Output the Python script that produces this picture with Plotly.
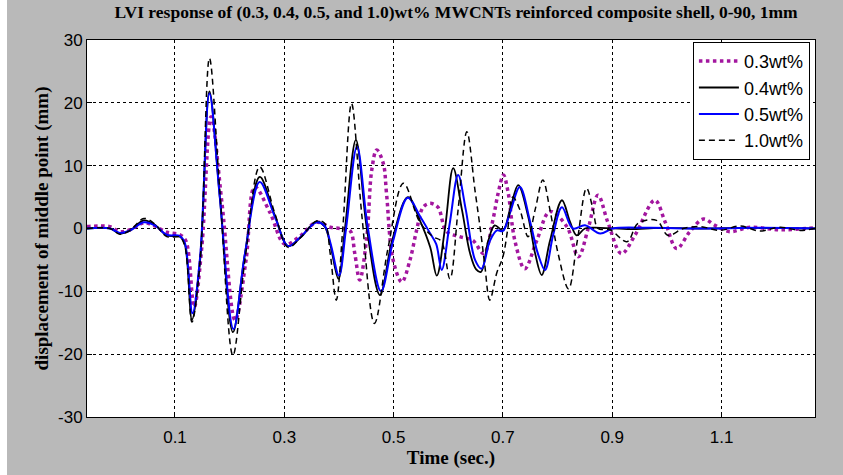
import plotly.graph_objects as go

# ---- data ----
t_03 = [-0.061, -0.019, -0.001, 0.018, 0.043, 0.063, 0.085, 0.109, 0.120, 0.135, 0.149, 0.166,
        0.186, 0.210, 0.230, 0.246, 0.274, 0.301, 0.329, 0.359, 0.384, 0.402, 0.420, 0.429,
        0.438, 0.451, 0.460, 0.469, 0.481, 0.487, 0.499, 0.515, 0.530, 0.542, 0.554, 0.567,
        0.581, 0.597, 0.621, 0.645, 0.665, 0.682, 0.691, 0.701, 0.709, 0.722, 0.740, 0.762,
        0.786, 0.817, 0.838, 0.856, 0.874, 0.892, 0.917, 0.942, 0.978, 0.997, 1.018, 1.042,
        1.067, 1.088, 1.115, 1.152, 1.207, 1.271]
v_03 = [0.3, 0.3, -0.5, -0.2, 0.9, 0.4, -0.6, -1.0, -2.0, -12.5, -3.0, 17.8,
        4.0, -14.6, -5.0, 6.6, 2.5, -2.5, -1.2, 1.0, 0.2, 0.0, -0.3, -4.0,
        -8.2, -1.3, 9.3, 12.5, 10.4, 5.6, -5.0, -8.5, -5.0, -0.3, 3.4, 4.0,
        3.4, -0.5, -1.3, -1.9, -4.0, 1.5, 5.5, 8.5, 6.0, -2.0, -6.4, -1.9,
        2.7, 0.3, -4.5, 0.0, 5.3, 1.0, -4.0, -1.0, 4.5, 1.0, -3.2, -0.5,
        1.5, 0.5, -0.5, 0.2, -0.2, 0.1]

t_04 = [-0.061, -0.019, -0.001, 0.018, 0.043, 0.063, 0.085, 0.109, 0.118, 0.131, 0.146, 0.163,
        0.182, 0.206, 0.228, 0.255, 0.283, 0.307, 0.329, 0.359, 0.374, 0.384, 0.399, 0.411,
        0.431, 0.451, 0.475, 0.497, 0.526, 0.548, 0.567, 0.579, 0.594, 0.609, 0.625, 0.640,
        0.651, 0.660, 0.673, 0.685, 0.700, 0.713, 0.728, 0.746, 0.759, 0.771, 0.786, 0.808,
        0.823, 0.835, 0.850, 0.878, 0.933, 0.987, 1.061, 1.152, 1.271]
v_04 = [0.0, 0.0, -0.8, -0.3, 1.3, 0.6, -1.1, -1.3, -2.5, -14.5, -5.0, 21.8,
        5.0, -16.5, -4.0, 8.2, 2.0, -2.8, -1.5, 1.1, 0.3, -2.5, -8.0, 0.0,
        14.1, 0.0, -10.6, -2.0, 5.0, 1.3, -3.0, -7.5, 0.0, 9.6, 3.0, -4.0,
        -6.5, -6.9, -2.0, 0.5, -0.3, 3.0, 6.9, 2.0, -4.0, -7.4, -2.0, 4.5,
        1.0, -1.1, 0.0, 0.1, -0.1, 0.1, 0.0, 0.1, 0.0]

t_05 = [-0.061, -0.019, -0.001, 0.018, 0.043, 0.063, 0.085, 0.109, 0.118, 0.132, 0.146, 0.163,
        0.182, 0.207, 0.228, 0.255, 0.283, 0.307, 0.329, 0.359, 0.374, 0.385, 0.400, 0.413,
        0.433, 0.453, 0.477, 0.499, 0.526, 0.548, 0.567, 0.578, 0.588, 0.603, 0.618, 0.632,
        0.649, 0.661, 0.676, 0.689, 0.700, 0.713, 0.731, 0.750, 0.764, 0.777, 0.792, 0.808,
        0.828, 0.850, 0.878, 0.901, 0.969, 1.061, 1.170, 1.271]
v_05 = [0.0, 0.0, -0.7, -0.3, 1.0, 0.5, -1.0, -1.2, -2.3, -13.5, -4.5, 21.5,
        5.0, -16.0, -4.0, 7.4, 1.8, -2.8, -1.4, 1.0, 0.4, -2.5, -7.5, 0.0,
        13.0, 0.0, -10.0, -2.0, 4.9, 2.0, -0.8, -2.5, -6.6, 1.0, 8.5, 3.0,
        -5.0, -6.4, -2.0, -0.3, -0.4, 2.5, 6.6, 1.0, -4.0, -6.6, -1.0, 3.4,
        0.0, 0.5, -0.8, 0.0, 0.1, 0.0, 0.1, 0.0]

t_10 = [-0.061, -0.019, -0.001, 0.018, 0.043, 0.063, 0.085, 0.109, 0.118, 0.131, 0.146, 0.163,
        0.182, 0.206, 0.228, 0.255, 0.283, 0.307, 0.329, 0.359, 0.374, 0.384, 0.395, 0.407,
        0.423, 0.442, 0.465, 0.490, 0.518, 0.548, 0.572, 0.587, 0.603, 0.618, 0.634, 0.649,
        0.660, 0.667, 0.676, 0.689, 0.700, 0.709, 0.718, 0.731, 0.746, 0.759, 0.773, 0.786,
        0.801, 0.820, 0.836, 0.853, 0.865, 0.874, 0.896, 0.927, 0.947, 0.981, 1.002, 1.030,
        1.061, 1.097, 1.134, 1.170, 1.207, 1.244, 1.271]
v_10 = [0.0, 0.0, -0.9, -0.3, 1.6, 0.7, -1.3, -1.4, -2.8, -14.9, -5.0, 27.1,
        6.0, -20.2, -5.0, 9.8, 2.3, -3.0, -1.5, 1.2, 0.8, -4.0, -11.4, 0.0,
        19.9, 2.0, -15.1, -3.0, 7.2, 1.0, -1.3, -2.0, -8.0, 3.0, 15.4, 6.0,
        -1.0, -6.0, -11.4, -7.0, -4.5, 0.0, 5.0, 3.0, -1.3, 3.0, 7.7, 3.0,
        -4.0, -9.6, -2.0, 6.4, 3.0, 0.0, -0.2, -2.1, 0.8, 1.3, -1.1, 0.0,
        0.3, -0.3, 0.4, -0.4, 0.2, -0.3, 0.0]

x_ticks = [0.1, 0.3, 0.5, 0.7, 0.9, 1.1]
y_ticks = [-30, -20, -10, 0, 10, 20, 30]
names = ["0.3wt%", "0.4wt%", "0.5wt%", "1.0wt%"]

fig = go.Figure()
fig.add_trace(go.Scatter(x=t_03, y=v_03, name=names[0], mode="lines", line_shape="spline",
                         line=dict(color="#a3169f", width=3.5, dash="dot")))
fig.add_trace(go.Scatter(x=t_04, y=v_04, name=names[1], mode="lines", line_shape="spline",
                         line=dict(color="black", width=1.8)))
fig.add_trace(go.Scatter(x=t_05, y=v_05, name=names[2], mode="lines", line_shape="spline",
                         line=dict(color="#0000ff", width=2)))
fig.add_trace(go.Scatter(x=t_10, y=v_10, name=names[3], mode="lines", line_shape="spline",
                         line=dict(color="black", width=1.5, dash="6px,4px")))

axis_common = dict(showline=True, linecolor="black", linewidth=1, mirror=True,
                   showgrid=True, gridcolor="black", gridwidth=1, griddash="dot",
                   zeroline=False, ticks="inside", ticklen=5, tickcolor="black",
                   tickfont=dict(family="Liberation Sans, Arial", size=17, color="black"))

serif = "Liberation Serif, Times New Roman"
fig.update_layout(
    width=843, height=475,
    paper_bgcolor="#b9b9b9", plot_bgcolor="white",
    margin=dict(l=87, r=28, t=40, b=58),
    title=dict(text="<b>LVI response of (0.3, 0.4, 0.5, and 1.0)wt% MWCNTs reinforced composite shell, 0-90, 1mm</b>",
               font=dict(family=serif, size=17.5, color="black"),
               x=0.541, xanchor="center", y=0.974, yanchor="middle"),
    xaxis=dict(range=[-0.061, 1.271], tickvals=x_ticks, ticktext=[str(v) for v in x_ticks],
               ticklabelstandoff=5,
               title=dict(text="<b>Time (sec.)</b>", standoff=2,
                          font=dict(family=serif, size=19, color="black")),
               **axis_common),
    yaxis=dict(range=[-30, 30], tickvals=y_ticks, ticktext=[str(v) for v in y_ticks],
               title=dict(text="<b>displacement of middle point (mm)</b>", standoff=4,
                          font=dict(family=serif, size=19, color="black")),
               **axis_common),
    legend=dict(x=0.993, xanchor="right", y=0.995, yanchor="top",
                bgcolor="white", bordercolor="black", borderwidth=1,
                font=dict(family="Liberation Sans, Arial", size=18, color="black"),
                itemwidth=40, tracegroupgap=0),
    showlegend=True,
    shapes=[dict(type="rect", xref="paper", yref="paper", x0=-87/728, x1=-80/728, y0=-58/377.5, y1=40/377.5 + 1,
                 fillcolor="white", line=dict(width=0), layer="below")],
)

fig.write_html("out.html")
